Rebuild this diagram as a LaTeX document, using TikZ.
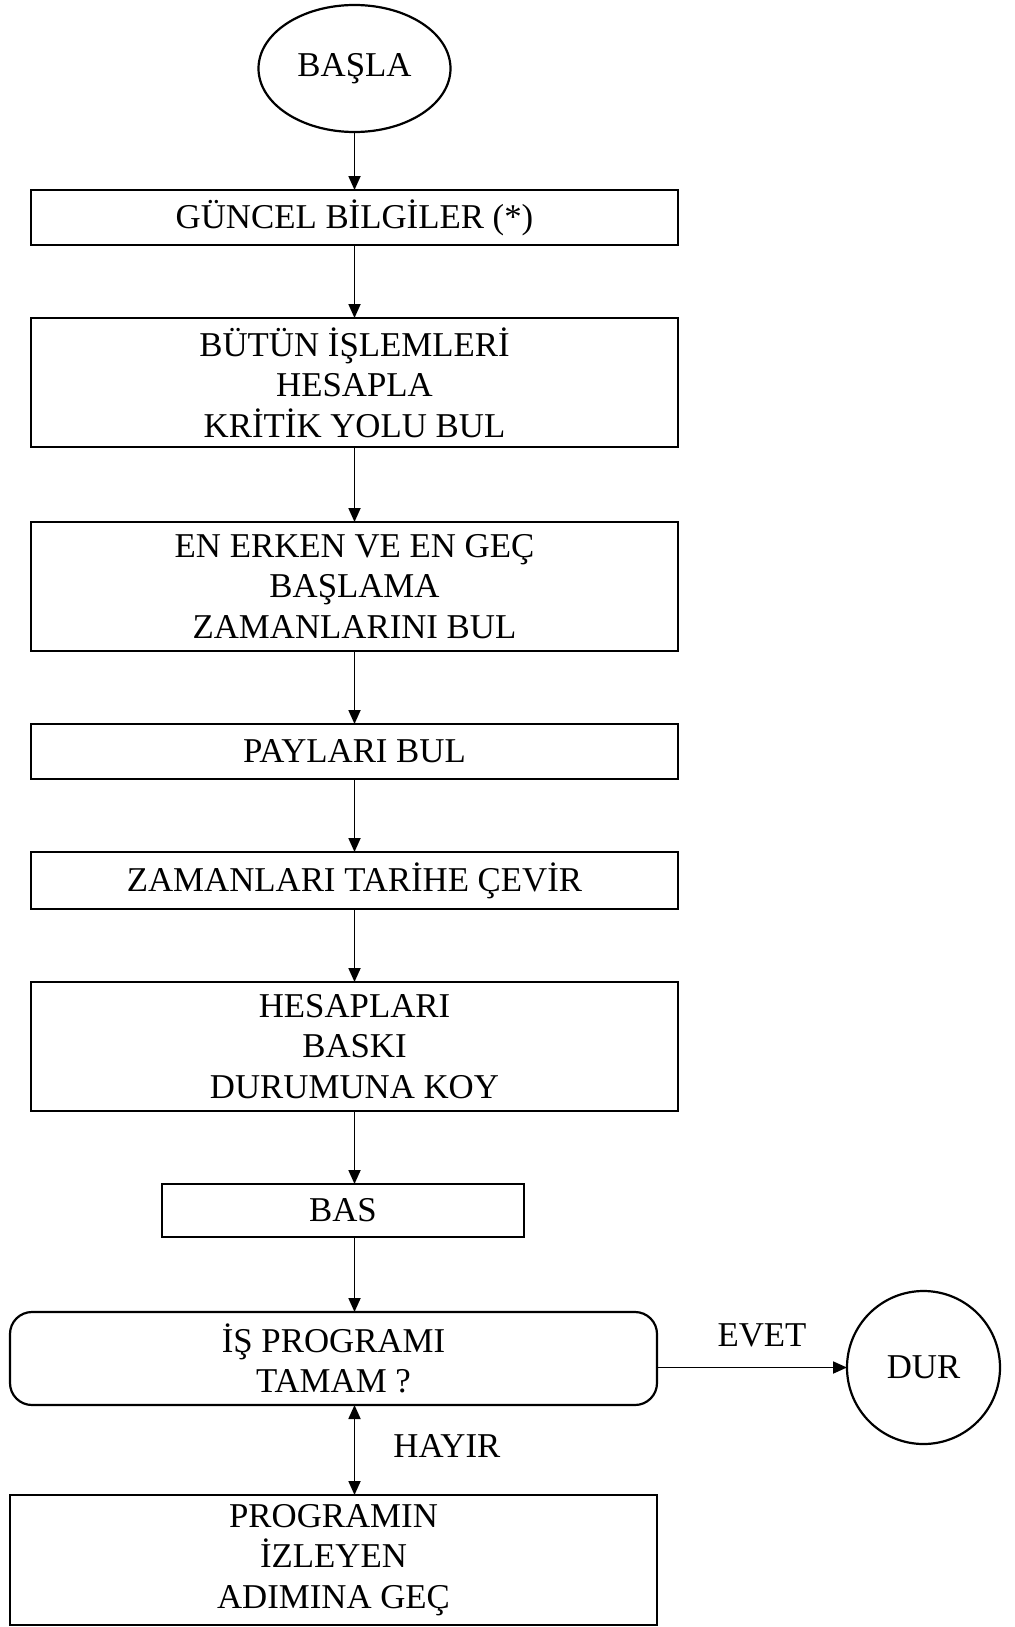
\documentclass[tikz,border=0pt]{standalone}
\usepackage{fontspec}
\setmainfont{Liberation Serif}
\usetikzlibrary{arrows.meta,positioning,shapes.geometric}
\tikzset{
  cpmbox/.style={draw,line width=1.1pt,outer sep=0pt,minimum width=323.5pt,minimum height=27.5pt,inner sep=2pt,align=center,font=\fontsize{17.4}{20.2}\selectfont},
  cpmtall/.style={cpmbox,minimum height=64.5pt},
  cpmend/.style={draw,line width=1.1pt,outer sep=0pt,inner sep=0pt,align=center,font=\fontsize{17.4}{20.2}\selectfont},
  cpmflow/.style={-{Triangle[length=7pt,width=6pt]},line width=0.9pt},
  cpmlabel/.style={font=\fontsize{17.4}{20.2}\selectfont,inner sep=2pt},
}
\begin{document}
\begin{tikzpicture}[x=1pt,y=1pt,node distance=36.5pt]
\useasboundingbox (0,0) rectangle (507.5,-813.5);
\node[cpmend,ellipse,minimum width=96pt,minimum height=63.5pt] (basla) at (177.25,-34.25) {BAŞLA};
\node[cpmbox,below=29pt of basla] (guncel) {GÜNCEL BİLGİLER (*)};
\node[cpmtall,below=of guncel] (butun) {BÜTÜN İŞLEMLERİ\\HESAPLA\\KRİTİK YOLU BUL};
\node[cpmtall,below=37.5pt of butun] (erken) {EN ERKEN VE EN GEÇ\\BAŞLAMA\\ZAMANLARINI BUL};
\node[cpmbox,below=of erken] (pay) {PAYLARI BUL};
\node[cpmbox,minimum height=28.5pt,below=of pay] (tarih) {ZAMANLARI TARİHE ÇEVİR};
\node[cpmtall,below=of tarih] (baski) {HESAPLARI\\BASKI\\DURUMUNA KOY};
\node[cpmbox,minimum width=181pt,minimum height=26.5pt,below=of baski,xshift=-5.75pt] (bas) {BAS};
\node[cpmbox,rounded corners=11pt,minimum height=46.5pt,below=37.5pt of bas,xshift=-4.75pt] (tamam) {İŞ PROGRAMI\\TAMAM ?};
\node[cpmtall,minimum height=65pt,below=45pt of tamam] (izle) {PROGRAMIN\\İZLEYEN\\ADIMINA GEÇ};
\node[cpmend,circle,minimum size=76.5pt,right=95pt of tamam,yshift=-4.5pt] (dur) {DUR};
\draw[cpmflow](basla)--(guncel);\draw[cpmflow](guncel)--(butun);\draw[cpmflow](butun)--(erken);
\draw[cpmflow](erken)--(pay);\draw[cpmflow](pay)--(tarih);\draw[cpmflow](tarih)--(baski);
\draw[cpmflow](baski.south)--(baski.south |- bas.north);
\draw[cpmflow](bas.south -| baski)--(tamam.north -| baski);
\draw[cpmflow](tamam.east |- dur)-- node[cpmlabel,above=8pt,xshift=5pt]{EVET} (dur);
\draw[cpmflow,{Triangle[length=7pt,width=6pt]}-{Triangle[length=7pt,width=6pt]}](tamam.south -| baski)-- node[cpmlabel,right=17pt,yshift=2pt]{HAYIR} (izle.north -| baski);
\end{tikzpicture}
\end{document}
